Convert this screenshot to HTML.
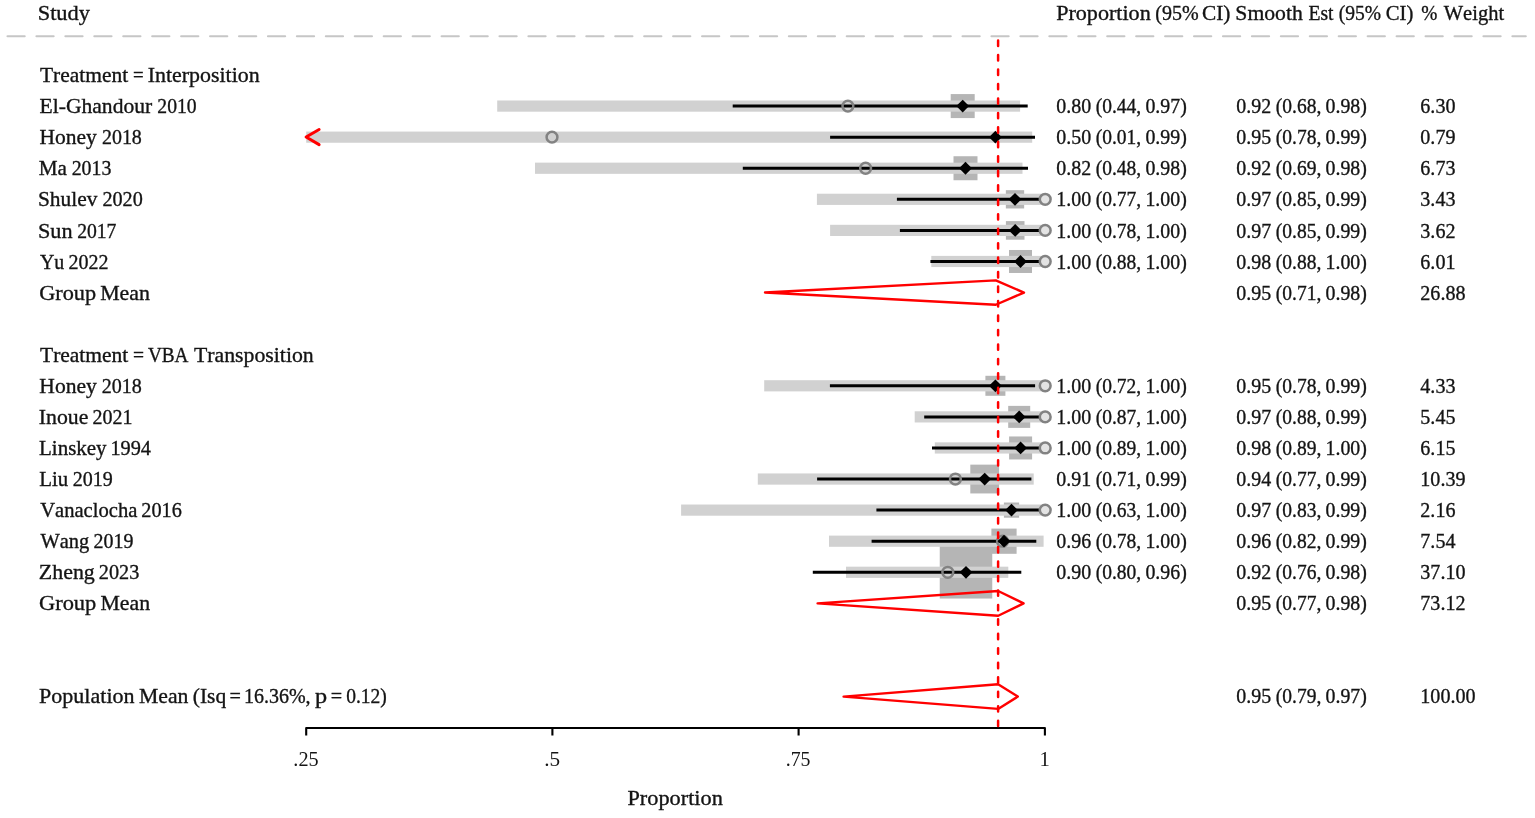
<!DOCTYPE html>
<html><head><meta charset="utf-8"><title>Forest plot</title>
<style>html,body{margin:0;padding:0;background:#fff;overflow:hidden;} svg{display:block;}</style>
</head><body>
<svg width="1535" height="818" viewBox="0 0 1535 818">
<rect width="1535" height="818" fill="#fff"/>
<rect x="950.70" y="94.08" width="24.00" height="24.00" fill="#b5b5b5"/>
<rect x="953.50" y="156.24" width="24.00" height="24.00" fill="#b5b5b5"/>
<rect x="1005.85" y="190.17" width="18.30" height="18.30" fill="#b5b5b5"/>
<rect x="1005.90" y="221.10" width="18.60" height="18.60" fill="#b5b5b5"/>
<rect x="1009.00" y="249.98" width="23.00" height="23.00" fill="#b5b5b5"/>
<rect x="985.40" y="375.80" width="20.00" height="20.00" fill="#b5b5b5"/>
<rect x="1008.20" y="405.88" width="22.00" height="22.00" fill="#b5b5b5"/>
<rect x="1009.10" y="436.46" width="23.00" height="23.00" fill="#b5b5b5"/>
<rect x="970.30" y="464.64" width="28.80" height="28.80" fill="#b5b5b5"/>
<rect x="1003.90" y="502.52" width="15.20" height="15.20" fill="#b5b5b5"/>
<rect x="991.40" y="528.60" width="25.20" height="25.20" fill="#b5b5b5"/>
<rect x="939.75" y="546.03" width="52.50" height="52.50" fill="#b5b5b5"/>
<rect x="497.20" y="100.48" width="522.90" height="11.2" fill="#d1d1d1"/>
<rect x="306.20" y="131.56" width="726.00" height="11.2" fill="#d1d1d1"/>
<rect x="535.00" y="162.64" width="487.50" height="11.2" fill="#d1d1d1"/>
<rect x="816.90" y="193.72" width="228.10" height="11.2" fill="#d1d1d1"/>
<rect x="830.10" y="224.80" width="214.90" height="11.2" fill="#d1d1d1"/>
<rect x="931.30" y="255.88" width="113.70" height="11.2" fill="#d1d1d1"/>
<rect x="764.20" y="380.20" width="280.80" height="11.2" fill="#d1d1d1"/>
<rect x="914.70" y="411.28" width="130.30" height="11.2" fill="#d1d1d1"/>
<rect x="934.80" y="442.36" width="110.20" height="11.2" fill="#d1d1d1"/>
<rect x="757.80" y="473.44" width="275.90" height="11.2" fill="#d1d1d1"/>
<rect x="681.10" y="504.52" width="363.90" height="11.2" fill="#d1d1d1"/>
<rect x="829.00" y="535.60" width="214.60" height="11.2" fill="#d1d1d1"/>
<rect x="846.00" y="566.68" width="162.30" height="11.2" fill="#d1d1d1"/>
<line x1="732.70" y1="106.08" x2="1027.70" y2="106.08" stroke="#000" stroke-width="3.0"/>
<line x1="830.10" y1="137.16" x2="1035.00" y2="137.16" stroke="#000" stroke-width="3.0"/>
<line x1="742.80" y1="168.24" x2="1028.00" y2="168.24" stroke="#000" stroke-width="3.0"/>
<line x1="896.90" y1="199.32" x2="1039.00" y2="199.32" stroke="#000" stroke-width="3.0"/>
<line x1="899.90" y1="230.40" x2="1039.00" y2="230.40" stroke="#000" stroke-width="3.0"/>
<line x1="930.40" y1="261.48" x2="1039.00" y2="261.48" stroke="#000" stroke-width="3.0"/>
<line x1="829.90" y1="385.80" x2="1035.10" y2="385.80" stroke="#000" stroke-width="3.0"/>
<line x1="924.20" y1="416.88" x2="1039.00" y2="416.88" stroke="#000" stroke-width="3.0"/>
<line x1="932.00" y1="447.96" x2="1039.00" y2="447.96" stroke="#000" stroke-width="3.0"/>
<line x1="817.10" y1="479.04" x2="1031.40" y2="479.04" stroke="#000" stroke-width="3.0"/>
<line x1="876.40" y1="510.12" x2="1039.00" y2="510.12" stroke="#000" stroke-width="3.0"/>
<line x1="871.60" y1="541.20" x2="1036.30" y2="541.20" stroke="#000" stroke-width="3.0"/>
<line x1="812.80" y1="572.28" x2="1021.30" y2="572.28" stroke="#000" stroke-width="3.0"/>
<circle cx="847.90" cy="106.08" r="5.4" fill="none" stroke="#828282" stroke-width="2.5"/>
<path d="M956.30 106.08L962.70 99.68L969.10 106.08L962.70 112.48Z" fill="#000"/>
<circle cx="552.00" cy="137.16" r="5.4" fill="none" stroke="#828282" stroke-width="2.5"/>
<path d="M989.00 137.16L995.40 130.76L1001.80 137.16L995.40 143.56Z" fill="#000"/>
<circle cx="865.60" cy="168.24" r="5.4" fill="none" stroke="#828282" stroke-width="2.5"/>
<path d="M959.10 168.24L965.50 161.84L971.90 168.24L965.50 174.64Z" fill="#000"/>
<circle cx="1045.20" cy="199.32" r="5.4" fill="#e3e3e3" stroke="#828282" stroke-width="2.5"/>
<path d="M1008.60 199.32L1015.00 192.92L1021.40 199.32L1015.00 205.72Z" fill="#000"/>
<circle cx="1045.20" cy="230.40" r="5.4" fill="#e3e3e3" stroke="#828282" stroke-width="2.5"/>
<path d="M1008.80 230.40L1015.20 224.00L1021.60 230.40L1015.20 236.80Z" fill="#000"/>
<circle cx="1045.20" cy="261.48" r="5.4" fill="#e3e3e3" stroke="#828282" stroke-width="2.5"/>
<path d="M1014.10 261.48L1020.50 255.08L1026.90 261.48L1020.50 267.88Z" fill="#000"/>
<circle cx="1045.20" cy="385.80" r="5.4" fill="#e3e3e3" stroke="#828282" stroke-width="2.5"/>
<path d="M989.00 385.80L995.40 379.40L1001.80 385.80L995.40 392.20Z" fill="#000"/>
<circle cx="1045.20" cy="416.88" r="5.4" fill="#e3e3e3" stroke="#828282" stroke-width="2.5"/>
<path d="M1012.80 416.88L1019.20 410.48L1025.60 416.88L1019.20 423.28Z" fill="#000"/>
<circle cx="1045.20" cy="447.96" r="5.4" fill="#e3e3e3" stroke="#828282" stroke-width="2.5"/>
<path d="M1014.20 447.96L1020.60 441.56L1027.00 447.96L1020.60 454.36Z" fill="#000"/>
<circle cx="955.40" cy="479.04" r="5.4" fill="none" stroke="#828282" stroke-width="2.5"/>
<path d="M978.30 479.04L984.70 472.64L991.10 479.04L984.70 485.44Z" fill="#000"/>
<circle cx="1045.20" cy="510.12" r="5.4" fill="#e3e3e3" stroke="#828282" stroke-width="2.5"/>
<path d="M1005.10 510.12L1011.50 503.72L1017.90 510.12L1011.50 516.52Z" fill="#000"/>
<circle cx="1002.50" cy="541.20" r="5.4" fill="none" stroke="#828282" stroke-width="2.5"/>
<path d="M997.60 541.20L1004.00 534.80L1010.40 541.20L1004.00 547.60Z" fill="#000"/>
<circle cx="947.80" cy="572.28" r="5.4" fill="none" stroke="#828282" stroke-width="2.5"/>
<path d="M959.60 572.28L966.00 565.88L972.40 572.28L966.00 578.68Z" fill="#000"/>
<polyline points="319.1,129.46 306.1,137.06 319.1,144.66" fill="none" stroke="#ff0000" stroke-width="3.0" stroke-linecap="round" stroke-linejoin="round"/>
<polygon points="765.00,292.56 995.80,280.36 1024.00,292.56 995.80,304.76" fill="none" stroke="#ff0000" stroke-width="2.4" stroke-linejoin="round"/>
<polygon points="817.60,603.36 998.20,590.96 1023.60,603.36 998.20,615.76" fill="none" stroke="#ff0000" stroke-width="2.4" stroke-linejoin="round"/>
<polygon points="843.60,696.60 998.10,684.30 1017.80,696.60 998.10,708.90" fill="none" stroke="#ff0000" stroke-width="2.4" stroke-linejoin="round"/>
<path d="M306.2 735.5V728H1044.9V735.5 M552.4 728V735.5 M798.6 728V735.5" fill="none" stroke="#000" stroke-width="2.1" stroke-linejoin="round"/>
<line x1="998.1" y1="40.55" x2="998.1" y2="726.3" stroke="#ff0000" stroke-width="2.5" stroke-dasharray="5.4 9.07" stroke-linecap="round"/>
<line x1="7.5" y1="36.3" x2="1525.8" y2="36.3" stroke="#c6c6c6" stroke-width="2.1" stroke-dasharray="17.2 11.74" stroke-linecap="round"/>
<g fill="#141414" stroke="#141414" stroke-width="0.35" font-family="'Liberation Serif', serif" style="font-kerning:none">
<text x="37.70" y="20.30" font-size="21.5" textLength="52.29" lengthAdjust="spacingAndGlyphs">Study</text>
<text x="1056.16" y="20.30" font-size="21.5" textLength="94.57" lengthAdjust="spacingAndGlyphs">Proportion</text>
<text x="1155.32" y="20.30" font-size="21.5" textLength="43.36" lengthAdjust="spacingAndGlyphs">(95%</text>
<text x="1201.93" y="20.30" font-size="21.5" textLength="28.41" lengthAdjust="spacingAndGlyphs">CI)</text>
<text x="1235.35" y="20.30" font-size="21.5" textLength="67.44" lengthAdjust="spacingAndGlyphs">Smooth</text>
<text x="1308.43" y="20.30" font-size="21.5" textLength="25.08" lengthAdjust="spacingAndGlyphs">Est</text>
<text x="1338.64" y="20.30" font-size="21.5" textLength="42.33" lengthAdjust="spacingAndGlyphs">(95%</text>
<text x="1385.75" y="20.30" font-size="21.5" textLength="27.56" lengthAdjust="spacingAndGlyphs">CI)</text>
<text x="1421.24" y="20.30" font-size="21.5" textLength="16.12" lengthAdjust="spacingAndGlyphs">%</text>
<text x="1443.78" y="20.30" font-size="21.5" textLength="60.34" lengthAdjust="spacingAndGlyphs">Weight</text>
<text x="39.91" y="82.35" font-size="21.5" textLength="88.21" lengthAdjust="spacingAndGlyphs">Treatment</text>
<text x="133.06" y="82.35" font-size="21.5" textLength="10.67" lengthAdjust="spacingAndGlyphs">=</text>
<text x="147.71" y="82.35" font-size="21.5" textLength="111.92" lengthAdjust="spacingAndGlyphs">Interposition</text>
<text x="39.58" y="113.38" font-size="21.5" textLength="112.61" lengthAdjust="spacingAndGlyphs">El-Ghandour</text>
<text x="157.34" y="113.38" font-size="21.5" textLength="39.31" lengthAdjust="spacingAndGlyphs">2010</text>
<text x="39.38" y="144.42" font-size="21.5" textLength="57.30" lengthAdjust="spacingAndGlyphs">Honey</text>
<text x="101.92" y="144.42" font-size="21.5" textLength="39.94" lengthAdjust="spacingAndGlyphs">2018</text>
<text x="38.79" y="175.45" font-size="21.5" textLength="28.20" lengthAdjust="spacingAndGlyphs">Ma</text>
<text x="71.63" y="175.45" font-size="21.5" textLength="39.75" lengthAdjust="spacingAndGlyphs">2013</text>
<text x="37.97" y="206.48" font-size="21.5" textLength="59.43" lengthAdjust="spacingAndGlyphs">Shulev</text>
<text x="102.41" y="206.48" font-size="21.5" textLength="40.36" lengthAdjust="spacingAndGlyphs">2020</text>
<text x="37.91" y="237.52" font-size="21.5" textLength="34.63" lengthAdjust="spacingAndGlyphs">Sun</text>
<text x="77.14" y="237.52" font-size="21.5" textLength="39.33" lengthAdjust="spacingAndGlyphs">2017</text>
<text x="39.88" y="268.55" font-size="21.5" textLength="24.36" lengthAdjust="spacingAndGlyphs">Yu</text>
<text x="68.52" y="268.55" font-size="21.5" textLength="39.98" lengthAdjust="spacingAndGlyphs">2022</text>
<text x="39.19" y="299.58" font-size="21.5" textLength="56.88" lengthAdjust="spacingAndGlyphs">Group</text>
<text x="100.17" y="299.58" font-size="21.5" textLength="49.76" lengthAdjust="spacingAndGlyphs">Mean</text>
<text x="40.01" y="361.65" font-size="21.5" textLength="88.31" lengthAdjust="spacingAndGlyphs">Treatment</text>
<text x="132.93" y="361.65" font-size="21.5" textLength="11.03" lengthAdjust="spacingAndGlyphs">=</text>
<text x="147.88" y="361.65" font-size="21.5" textLength="40.56" lengthAdjust="spacingAndGlyphs">VBA</text>
<text x="194.01" y="361.65" font-size="21.5" textLength="119.72" lengthAdjust="spacingAndGlyphs">Transposition</text>
<text x="39.38" y="392.68" font-size="21.5" textLength="57.51" lengthAdjust="spacingAndGlyphs">Honey</text>
<text x="101.82" y="392.68" font-size="21.5" textLength="40.04" lengthAdjust="spacingAndGlyphs">2018</text>
<text x="38.81" y="423.71" font-size="21.5" textLength="49.54" lengthAdjust="spacingAndGlyphs">Inoue</text>
<text x="92.42" y="423.71" font-size="21.5" textLength="39.98" lengthAdjust="spacingAndGlyphs">2021</text>
<text x="39.00" y="454.75" font-size="21.5" textLength="67.59" lengthAdjust="spacingAndGlyphs">Linskey</text>
<text x="110.42" y="454.75" font-size="21.5" textLength="40.60" lengthAdjust="spacingAndGlyphs">1994</text>
<text x="39.30" y="485.78" font-size="21.5" textLength="28.96" lengthAdjust="spacingAndGlyphs">Liu</text>
<text x="72.72" y="485.78" font-size="21.5" textLength="40.00" lengthAdjust="spacingAndGlyphs">2019</text>
<text x="40.17" y="516.81" font-size="21.5" textLength="97.21" lengthAdjust="spacingAndGlyphs">Vanaclocha</text>
<text x="141.31" y="516.81" font-size="21.5" textLength="40.49" lengthAdjust="spacingAndGlyphs">2016</text>
<text x="40.38" y="547.85" font-size="21.5" textLength="48.81" lengthAdjust="spacingAndGlyphs">Wang</text>
<text x="93.52" y="547.85" font-size="21.5" textLength="39.89" lengthAdjust="spacingAndGlyphs">2019</text>
<text x="38.85" y="578.88" font-size="21.5" textLength="55.97" lengthAdjust="spacingAndGlyphs">Zheng</text>
<text x="98.81" y="578.88" font-size="21.5" textLength="40.48" lengthAdjust="spacingAndGlyphs">2023</text>
<text x="38.98" y="609.91" font-size="21.5" textLength="57.30" lengthAdjust="spacingAndGlyphs">Group</text>
<text x="100.47" y="609.91" font-size="21.5" textLength="49.66" lengthAdjust="spacingAndGlyphs">Mean</text>
<text x="39.07" y="703.01" font-size="21.5" textLength="95.47" lengthAdjust="spacingAndGlyphs">Population</text>
<text x="138.97" y="703.01" font-size="21.5" textLength="49.45" lengthAdjust="spacingAndGlyphs">Mean</text>
<text x="192.76" y="703.01" font-size="21.5" textLength="33.43" lengthAdjust="spacingAndGlyphs">(Isq</text>
<text x="229.59" y="703.01" font-size="21.5" textLength="11.39" lengthAdjust="spacingAndGlyphs">=</text>
<text x="243.94" y="703.01" font-size="21.5" textLength="66.62" lengthAdjust="spacingAndGlyphs">16.36%,</text>
<text x="315.01" y="703.01" font-size="21.5" textLength="12.14" lengthAdjust="spacingAndGlyphs">p</text>
<text x="330.79" y="703.01" font-size="21.5" textLength="11.39" lengthAdjust="spacingAndGlyphs">=</text>
<text x="346.16" y="703.01" font-size="21.5" textLength="40.70" lengthAdjust="spacingAndGlyphs">0.12)</text>
<text x="293.36" y="765.90" font-size="21.3" textLength="25.33" lengthAdjust="spacingAndGlyphs" stroke-width="0">.25</text>
<text x="544.20" y="765.90" font-size="21.3" textLength="15.93" lengthAdjust="spacingAndGlyphs" stroke-width="0">.5</text>
<text x="785.69" y="765.90" font-size="21.3" textLength="24.89" lengthAdjust="spacingAndGlyphs" stroke-width="0">.75</text>
<text x="1039.38" y="765.90" font-size="21.3" textLength="10.37" lengthAdjust="spacingAndGlyphs" stroke-width="0">1</text>
<text x="627.46" y="805.00" font-size="21.5" textLength="95.38" lengthAdjust="spacingAndGlyphs">Proportion</text>
<text x="1056.24" y="113.38" font-size="21.5" textLength="34.92" lengthAdjust="spacingAndGlyphs">0.80</text>
<text x="1095.74" y="113.38" font-size="21.5" textLength="45.48" lengthAdjust="spacingAndGlyphs">(0.44,</text>
<text x="1145.44" y="113.38" font-size="21.5" textLength="41.33" lengthAdjust="spacingAndGlyphs">0.97)</text>
<text x="1056.24" y="144.42" font-size="21.5" textLength="34.92" lengthAdjust="spacingAndGlyphs">0.50</text>
<text x="1095.74" y="144.42" font-size="21.5" textLength="45.48" lengthAdjust="spacingAndGlyphs">(0.01,</text>
<text x="1145.44" y="144.42" font-size="21.5" textLength="41.33" lengthAdjust="spacingAndGlyphs">0.99)</text>
<text x="1056.24" y="175.45" font-size="21.5" textLength="34.92" lengthAdjust="spacingAndGlyphs">0.82</text>
<text x="1095.74" y="175.45" font-size="21.5" textLength="45.48" lengthAdjust="spacingAndGlyphs">(0.48,</text>
<text x="1145.44" y="175.45" font-size="21.5" textLength="41.33" lengthAdjust="spacingAndGlyphs">0.98)</text>
<text x="1056.24" y="206.48" font-size="21.5" textLength="34.92" lengthAdjust="spacingAndGlyphs">1.00</text>
<text x="1095.74" y="206.48" font-size="21.5" textLength="45.48" lengthAdjust="spacingAndGlyphs">(0.77,</text>
<text x="1145.44" y="206.48" font-size="21.5" textLength="41.33" lengthAdjust="spacingAndGlyphs">1.00)</text>
<text x="1056.24" y="237.52" font-size="21.5" textLength="34.92" lengthAdjust="spacingAndGlyphs">1.00</text>
<text x="1095.74" y="237.52" font-size="21.5" textLength="45.48" lengthAdjust="spacingAndGlyphs">(0.78,</text>
<text x="1145.44" y="237.52" font-size="21.5" textLength="41.33" lengthAdjust="spacingAndGlyphs">1.00)</text>
<text x="1056.24" y="268.55" font-size="21.5" textLength="34.92" lengthAdjust="spacingAndGlyphs">1.00</text>
<text x="1095.74" y="268.55" font-size="21.5" textLength="45.48" lengthAdjust="spacingAndGlyphs">(0.88,</text>
<text x="1145.44" y="268.55" font-size="21.5" textLength="41.33" lengthAdjust="spacingAndGlyphs">1.00)</text>
<text x="1056.24" y="392.68" font-size="21.5" textLength="34.92" lengthAdjust="spacingAndGlyphs">1.00</text>
<text x="1095.74" y="392.68" font-size="21.5" textLength="45.48" lengthAdjust="spacingAndGlyphs">(0.72,</text>
<text x="1145.44" y="392.68" font-size="21.5" textLength="41.33" lengthAdjust="spacingAndGlyphs">1.00)</text>
<text x="1056.24" y="423.71" font-size="21.5" textLength="34.92" lengthAdjust="spacingAndGlyphs">1.00</text>
<text x="1095.74" y="423.71" font-size="21.5" textLength="45.48" lengthAdjust="spacingAndGlyphs">(0.87,</text>
<text x="1145.44" y="423.71" font-size="21.5" textLength="41.33" lengthAdjust="spacingAndGlyphs">1.00)</text>
<text x="1056.24" y="454.75" font-size="21.5" textLength="34.92" lengthAdjust="spacingAndGlyphs">1.00</text>
<text x="1095.74" y="454.75" font-size="21.5" textLength="45.48" lengthAdjust="spacingAndGlyphs">(0.89,</text>
<text x="1145.44" y="454.75" font-size="21.5" textLength="41.33" lengthAdjust="spacingAndGlyphs">1.00)</text>
<text x="1056.24" y="485.78" font-size="21.5" textLength="34.92" lengthAdjust="spacingAndGlyphs">0.91</text>
<text x="1095.74" y="485.78" font-size="21.5" textLength="45.48" lengthAdjust="spacingAndGlyphs">(0.71,</text>
<text x="1145.44" y="485.78" font-size="21.5" textLength="41.33" lengthAdjust="spacingAndGlyphs">0.99)</text>
<text x="1056.24" y="516.81" font-size="21.5" textLength="34.92" lengthAdjust="spacingAndGlyphs">1.00</text>
<text x="1095.74" y="516.81" font-size="21.5" textLength="45.48" lengthAdjust="spacingAndGlyphs">(0.63,</text>
<text x="1145.44" y="516.81" font-size="21.5" textLength="41.33" lengthAdjust="spacingAndGlyphs">1.00)</text>
<text x="1056.24" y="547.85" font-size="21.5" textLength="34.92" lengthAdjust="spacingAndGlyphs">0.96</text>
<text x="1095.74" y="547.85" font-size="21.5" textLength="45.48" lengthAdjust="spacingAndGlyphs">(0.78,</text>
<text x="1145.44" y="547.85" font-size="21.5" textLength="41.33" lengthAdjust="spacingAndGlyphs">1.00)</text>
<text x="1056.24" y="578.88" font-size="21.5" textLength="34.92" lengthAdjust="spacingAndGlyphs">0.90</text>
<text x="1095.74" y="578.88" font-size="21.5" textLength="45.48" lengthAdjust="spacingAndGlyphs">(0.80,</text>
<text x="1145.44" y="578.88" font-size="21.5" textLength="41.33" lengthAdjust="spacingAndGlyphs">0.96)</text>
<text x="1236.34" y="113.38" font-size="21.5" textLength="34.92" lengthAdjust="spacingAndGlyphs">0.92</text>
<text x="1275.84" y="113.38" font-size="21.5" textLength="45.48" lengthAdjust="spacingAndGlyphs">(0.68,</text>
<text x="1325.54" y="113.38" font-size="21.5" textLength="41.33" lengthAdjust="spacingAndGlyphs">0.98)</text>
<text x="1236.34" y="144.42" font-size="21.5" textLength="34.92" lengthAdjust="spacingAndGlyphs">0.95</text>
<text x="1275.84" y="144.42" font-size="21.5" textLength="45.48" lengthAdjust="spacingAndGlyphs">(0.78,</text>
<text x="1325.54" y="144.42" font-size="21.5" textLength="41.33" lengthAdjust="spacingAndGlyphs">0.99)</text>
<text x="1236.34" y="175.45" font-size="21.5" textLength="34.92" lengthAdjust="spacingAndGlyphs">0.92</text>
<text x="1275.84" y="175.45" font-size="21.5" textLength="45.48" lengthAdjust="spacingAndGlyphs">(0.69,</text>
<text x="1325.54" y="175.45" font-size="21.5" textLength="41.33" lengthAdjust="spacingAndGlyphs">0.98)</text>
<text x="1236.34" y="206.48" font-size="21.5" textLength="34.92" lengthAdjust="spacingAndGlyphs">0.97</text>
<text x="1275.84" y="206.48" font-size="21.5" textLength="45.48" lengthAdjust="spacingAndGlyphs">(0.85,</text>
<text x="1325.54" y="206.48" font-size="21.5" textLength="41.33" lengthAdjust="spacingAndGlyphs">0.99)</text>
<text x="1236.34" y="237.52" font-size="21.5" textLength="34.92" lengthAdjust="spacingAndGlyphs">0.97</text>
<text x="1275.84" y="237.52" font-size="21.5" textLength="45.48" lengthAdjust="spacingAndGlyphs">(0.85,</text>
<text x="1325.54" y="237.52" font-size="21.5" textLength="41.33" lengthAdjust="spacingAndGlyphs">0.99)</text>
<text x="1236.34" y="268.55" font-size="21.5" textLength="34.92" lengthAdjust="spacingAndGlyphs">0.98</text>
<text x="1275.84" y="268.55" font-size="21.5" textLength="45.48" lengthAdjust="spacingAndGlyphs">(0.88,</text>
<text x="1325.54" y="268.55" font-size="21.5" textLength="41.33" lengthAdjust="spacingAndGlyphs">1.00)</text>
<text x="1236.34" y="299.58" font-size="21.5" textLength="34.92" lengthAdjust="spacingAndGlyphs">0.95</text>
<text x="1275.84" y="299.58" font-size="21.5" textLength="45.48" lengthAdjust="spacingAndGlyphs">(0.71,</text>
<text x="1325.54" y="299.58" font-size="21.5" textLength="41.33" lengthAdjust="spacingAndGlyphs">0.98)</text>
<text x="1236.34" y="392.68" font-size="21.5" textLength="34.92" lengthAdjust="spacingAndGlyphs">0.95</text>
<text x="1275.84" y="392.68" font-size="21.5" textLength="45.48" lengthAdjust="spacingAndGlyphs">(0.78,</text>
<text x="1325.54" y="392.68" font-size="21.5" textLength="41.33" lengthAdjust="spacingAndGlyphs">0.99)</text>
<text x="1236.34" y="423.71" font-size="21.5" textLength="34.92" lengthAdjust="spacingAndGlyphs">0.97</text>
<text x="1275.84" y="423.71" font-size="21.5" textLength="45.48" lengthAdjust="spacingAndGlyphs">(0.88,</text>
<text x="1325.54" y="423.71" font-size="21.5" textLength="41.33" lengthAdjust="spacingAndGlyphs">0.99)</text>
<text x="1236.34" y="454.75" font-size="21.5" textLength="34.92" lengthAdjust="spacingAndGlyphs">0.98</text>
<text x="1275.84" y="454.75" font-size="21.5" textLength="45.48" lengthAdjust="spacingAndGlyphs">(0.89,</text>
<text x="1325.54" y="454.75" font-size="21.5" textLength="41.33" lengthAdjust="spacingAndGlyphs">1.00)</text>
<text x="1236.34" y="485.78" font-size="21.5" textLength="34.92" lengthAdjust="spacingAndGlyphs">0.94</text>
<text x="1275.84" y="485.78" font-size="21.5" textLength="45.48" lengthAdjust="spacingAndGlyphs">(0.77,</text>
<text x="1325.54" y="485.78" font-size="21.5" textLength="41.33" lengthAdjust="spacingAndGlyphs">0.99)</text>
<text x="1236.34" y="516.81" font-size="21.5" textLength="34.92" lengthAdjust="spacingAndGlyphs">0.97</text>
<text x="1275.84" y="516.81" font-size="21.5" textLength="45.48" lengthAdjust="spacingAndGlyphs">(0.83,</text>
<text x="1325.54" y="516.81" font-size="21.5" textLength="41.33" lengthAdjust="spacingAndGlyphs">0.99)</text>
<text x="1236.34" y="547.85" font-size="21.5" textLength="34.92" lengthAdjust="spacingAndGlyphs">0.96</text>
<text x="1275.84" y="547.85" font-size="21.5" textLength="45.48" lengthAdjust="spacingAndGlyphs">(0.82,</text>
<text x="1325.54" y="547.85" font-size="21.5" textLength="41.33" lengthAdjust="spacingAndGlyphs">0.99)</text>
<text x="1236.34" y="578.88" font-size="21.5" textLength="34.92" lengthAdjust="spacingAndGlyphs">0.92</text>
<text x="1275.84" y="578.88" font-size="21.5" textLength="45.48" lengthAdjust="spacingAndGlyphs">(0.76,</text>
<text x="1325.54" y="578.88" font-size="21.5" textLength="41.33" lengthAdjust="spacingAndGlyphs">0.98)</text>
<text x="1236.34" y="609.91" font-size="21.5" textLength="34.92" lengthAdjust="spacingAndGlyphs">0.95</text>
<text x="1275.84" y="609.91" font-size="21.5" textLength="45.48" lengthAdjust="spacingAndGlyphs">(0.77,</text>
<text x="1325.54" y="609.91" font-size="21.5" textLength="41.33" lengthAdjust="spacingAndGlyphs">0.98)</text>
<text x="1236.34" y="703.01" font-size="21.5" textLength="34.92" lengthAdjust="spacingAndGlyphs">0.95</text>
<text x="1275.84" y="703.01" font-size="21.5" textLength="45.48" lengthAdjust="spacingAndGlyphs">(0.79,</text>
<text x="1325.54" y="703.01" font-size="21.5" textLength="41.33" lengthAdjust="spacingAndGlyphs">0.97)</text>
<text x="1420.34" y="113.38" font-size="21.5" textLength="35.13" lengthAdjust="spacingAndGlyphs">6.30</text>
<text x="1420.34" y="144.42" font-size="21.5" textLength="35.13" lengthAdjust="spacingAndGlyphs">0.79</text>
<text x="1420.34" y="175.45" font-size="21.5" textLength="35.13" lengthAdjust="spacingAndGlyphs">6.73</text>
<text x="1420.34" y="206.48" font-size="21.5" textLength="35.13" lengthAdjust="spacingAndGlyphs">3.43</text>
<text x="1420.34" y="237.52" font-size="21.5" textLength="35.13" lengthAdjust="spacingAndGlyphs">3.62</text>
<text x="1420.34" y="268.55" font-size="21.5" textLength="35.13" lengthAdjust="spacingAndGlyphs">6.01</text>
<text x="1420.34" y="299.58" font-size="21.5" textLength="45.16" lengthAdjust="spacingAndGlyphs">26.88</text>
<text x="1420.34" y="392.68" font-size="21.5" textLength="35.13" lengthAdjust="spacingAndGlyphs">4.33</text>
<text x="1420.34" y="423.71" font-size="21.5" textLength="35.13" lengthAdjust="spacingAndGlyphs">5.45</text>
<text x="1420.34" y="454.75" font-size="21.5" textLength="35.13" lengthAdjust="spacingAndGlyphs">6.15</text>
<text x="1420.34" y="485.78" font-size="21.5" textLength="45.16" lengthAdjust="spacingAndGlyphs">10.39</text>
<text x="1420.34" y="516.81" font-size="21.5" textLength="35.13" lengthAdjust="spacingAndGlyphs">2.16</text>
<text x="1420.34" y="547.85" font-size="21.5" textLength="35.13" lengthAdjust="spacingAndGlyphs">7.54</text>
<text x="1420.34" y="578.88" font-size="21.5" textLength="45.16" lengthAdjust="spacingAndGlyphs">37.10</text>
<text x="1420.34" y="609.91" font-size="21.5" textLength="45.16" lengthAdjust="spacingAndGlyphs">73.12</text>
<text x="1420.34" y="703.01" font-size="21.5" textLength="55.20" lengthAdjust="spacingAndGlyphs">100.00</text>
</g>
</svg>
</body></html>
